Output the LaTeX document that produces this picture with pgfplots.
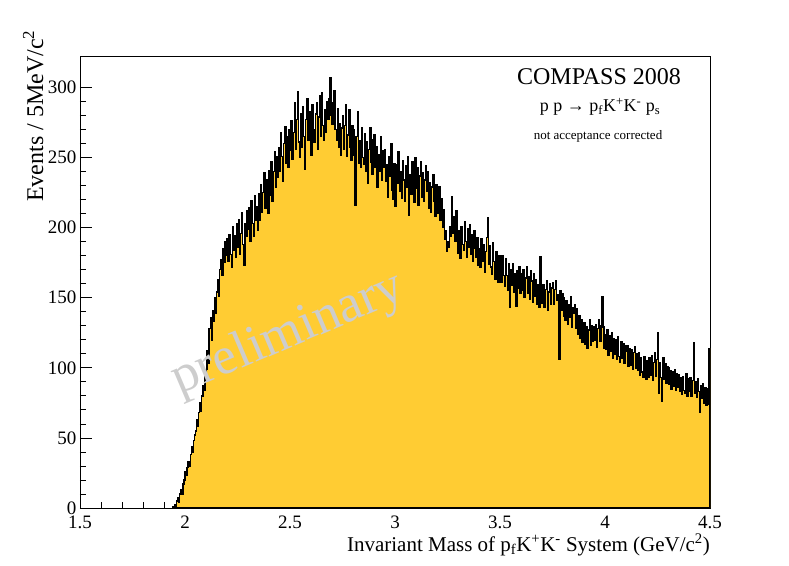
\documentclass[border=0pt]{standalone}
\usepackage{fontspec}
\setmainfont{Liberation Serif}
\usepackage{pgfplots}
\pgfplotsset{compat=1.18}
\usepackage{pgfplotstable}
\definecolor{histfill}{RGB}{255,204,51}
\definecolor{wm}{RGB}{205,205,205}

% Events per 5 MeV bin, first bin starts at 1.940 GeV
\pgfplotstableread[row sep=\\]{
y\\
1\\ 0\\
2\\ 0\\ 5\\ 7\\ 4\\ 10\\ 13\\ 10\\ 17\\ 20\\
26\\ 23\\ 29\\ 33\\ 30\\ 38\\ 44\\ 40\\ 48\\ 52\\
55\\ 63\\ 58\\ 68\\ 75\\ 69\\ 80\\ 87\\ 84\\ 95\\
99\\ 112\\ 103\\ 128\\ 136\\ 120\\ 141\\ 133\\ 150\\ 139\\
154\\ 163\\ 151\\ 170\\ 177\\ 166\\ 185\\ 175\\ 190\\ 180\\
192\\ 176\\ 195\\ 181\\ 172\\ 201\\ 184\\ 194\\ 179\\ 203\\
186\\ 206\\ 181\\ 196\\ 211\\ 188\\ 173\\ 203\\ 194\\ 212\\
199\\ 214\\ 190\\ 219\\ 203\\ 194\\ 223\\ 205\\ 215\\ 198\\
224\\ 205\\ 231\\ 211\\ 225\\ 239\\ 214\\ 228\\ 234\\ 210\\
241\\ 223\\ 247\\ 219\\ 240\\ 254\\ 229\\ 251\\ 236\\ 257\\
240\\ 268\\ 251\\ 233\\ 260\\ 272\\ 246\\ 265\\ 243\\ 270\\
255\\ 276\\ 249\\ 268\\ 289\\ 256\\ 277\\ 297\\ 261\\ 250\\
281\\ 257\\ 286\\ 265\\ 242\\ 277\\ 292\\ 262\\ 283\\ 268\\
252\\ 288\\ 270\\ 261\\ 281\\ 289\\ 256\\ 279\\ 294\\ 265\\
296\\ 273\\ 262\\ 284\\ 268\\ 290\\ 277\\ 292\\ 307\\ 280\\
274\\ 289\\ 298\\ 270\\ 262\\ 285\\ 257\\ 274\\ 252\\ 271\\
280\\ 256\\ 273\\ 288\\ 251\\ 266\\ 284\\ 257\\ 248\\ 273\\
270\\ 252\\ 216\\ 265\\ 283\\ 246\\ 262\\ 243\\ 271\\ 250\\
245\\ 267\\ 240\\ 261\\ 232\\ 256\\ 271\\ 247\\ 238\\ 263\\
266\\ 243\\ 258\\ 229\\ 252\\ 240\\ 265\\ 234\\ 255\\ 243\\
256\\ 233\\ 245\\ 222\\ 251\\ 237\\ 260\\ 227\\ 220\\ 246\\
215\\ 245\\ 232\\ 254\\ 226\\ 240\\ 221\\ 248\\ 234\\ 219\\
244\\ 229\\ 251\\ 209\\ 238\\ 224\\ 247\\ 237\\ 218\\ 250\\
228\\ 243\\ 216\\ 237\\ 247\\ 222\\ 239\\ 219\\ 234\\ 244\\
226\\ 240\\ 214\\ 232\\ 211\\ 229\\ 238\\ 219\\ 208\\ 231\\
227\\ 210\\ 229\\ 205\\ 221\\ 200\\ 213\\ 192\\ 198\\ 183\\
190\\ 186\\ 201\\ 194\\ 222\\ 196\\ 208\\ 190\\ 212\\ 197\\
182\\ 198\\ 178\\ 201\\ 188\\ 184\\ 204\\ 190\\ 179\\ 199\\
186\\ 202\\ 181\\ 195\\ 176\\ 198\\ 185\\ 179\\ 193\\ 173\\
185\\ 172\\ 192\\ 176\\ 188\\ 168\\ 183\\ 193\\ 207\\ 174\\
187\\ 172\\ 167\\ 189\\ 176\\ 163\\ 183\\ 171\\ 161\\ 180\\
175\\ 161\\ 180\\ 166\\ 158\\ 178\\ 166\\ 155\\ 174\\ 143\\
170\\ 159\\ 174\\ 154\\ 167\\ 144\\ 169\\ 157\\ 172\\ 153\\
167\\ 155\\ 170\\ 150\\ 164\\ 172\\ 153\\ 165\\ 149\\ 169\\
162\\ 147\\ 167\\ 151\\ 163\\ 145\\ 159\\ 143\\ 179\\ 149\\
146\\ 159\\ 143\\ 156\\ 162\\ 141\\ 154\\ 160\\ 145\\ 157\\
161\\ 145\\ 156\\ 162\\ 148\\ 152\\ 106\\ 155\\ 141\\ 153\\
150\\ 137\\ 134\\ 148\\ 131\\ 145\\ 136\\ 151\\ 129\\ 143\\
139\\ 145\\ 128\\ 142\\ 124\\ 137\\ 121\\ 134\\ 118\\ 130\\
132\\ 117\\ 129\\ 114\\ 127\\ 134\\ 116\\ 130\\ 119\\ 129\\
120\\ 131\\ 115\\ 128\\ 134\\ 119\\ 130\\ 151\\ 129\\ 114\\
124\\ 113\\ 127\\ 109\\ 123\\ 112\\ 125\\ 107\\ 121\\ 110\\
120\\ 106\\ 122\\ 108\\ 104\\ 119\\ 107\\ 117\\ 103\\ 116\\
112\\ 116\\ 101\\ 114\\ 102\\ 113\\ 99\\ 111\\ 115\\ 100\\
110\\ 98\\ 111\\ 95\\ 107\\ 97\\ 93\\ 108\\ 96\\ 92\\
105\\ 93\\ 107\\ 95\\ 109\\ 91\\ 104\\ 111\\ 94\\ 106\\
125\\ 82\\ 104\\ 93\\ 76\\ 107\\ 92\\ 103\\ 89\\ 101\\
100\\ 88\\ 98\\ 85\\ 97\\ 87\\ 99\\ 84\\ 96\\ 86\\
95\\ 83\\ 93\\ 81\\ 94\\ 84\\ 82\\ 96\\ 80\\ 92\\
83\\ 93\\ 80\\ 91\\ 118\\ 82\\ 90\\ 79\\ 92\\ 83\\
68\\ 87\\ 78\\ 89\\ 75\\ 86\\ 73\\ 85\\ 74\\ 114\\
114\\
}\histdata

\begin{document}
\begin{tikzpicture}
\useasboundingbox (-80bp,-58bp) rectangle (709bp,508bp);
\begin{axis}[
  at={(0,0)}, anchor=south west,
  scale only axis, width=630bp, height=452bp,
  xmin=1.5, xmax=4.5, ymin=0, ymax=322.5,
  xtick={1.5,2,2.5,3,3.5,4,4.5},
  xticklabels={1.5,2,2.5,3,3.5,4,4.5},
  ytick={0,50,100,150,200,250,300},
  minor x tick num=4, minor y tick num=4,
  tick pos=left, tick align=inside,
  major tick length=12bp, minor tick length=6bp,
  axis line style={line width=0.9bp},
  every tick/.style={black, line width=0.8bp},
  tick label style={font=\fontsize{19bp}{22bp}\selectfont},
  /pgf/number format/assume math mode=true,
  xticklabel style={yshift=-4bp},
  yticklabel style={xshift=0bp},
]
\addplot[const plot mark left, draw=black, line width=1.4bp, fill=histfill]
  table[x expr={1.94+0.005*\coordindex}, y=y]{\histdata} \closedcycle;
\end{axis}
% watermark
\node[wm, rotate=23, font=\fontsize{53bp}{60bp}\selectfont] at (208bp,173bp) {preliminary};
% axis titles
\node[anchor=base east, font=\fontsize{21bp}{24bp}\selectfont, inner sep=0pt]
  at (630bp,-43bp) {Invariant Mass of p\textsubscript{f}K\textsuperscript{+}K\textsuperscript{-} System (GeV/c\textsuperscript{2})};
\node[anchor=base east, rotate=90, font=\fontsize{24bp}{27bp}\selectfont, inner sep=0pt]
  at (-37bp,478bp) {Events / 5MeV/c\textsuperscript{2}};
% text box
\node[anchor=base, font=\fontsize{24bp}{28bp}\selectfont, inner sep=0pt] at (519bp,423bp) {COMPASS 2008};
\node[anchor=base, font=\fontsize{18bp}{21bp}\selectfont, inner sep=0pt] at (520bp,396bp) {p p → p\textsubscript{f}K\textsuperscript{+}K\textsuperscript{-} p\textsubscript{s}};
\node[anchor=base, font=\fontsize{13bp}{15bp}\selectfont, inner sep=0pt] at (518bp,368bp) {not acceptance corrected};
\end{tikzpicture}
\end{document}
